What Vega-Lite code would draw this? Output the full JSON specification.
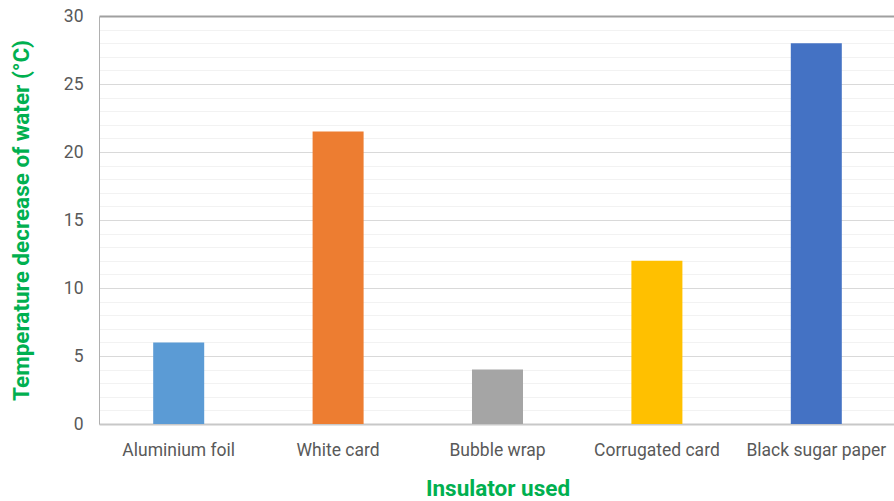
{
  "$schema": "https://vega.github.io/schema/vega-lite/v6.json",
  "width": 797,
  "height": 408,
  "autosize": "none",
  "padding": {"left": 99, "top": 16, "right": 0, "bottom": 77},
  "background": "white",
  "config": {
    "font": "Roboto",
    "view": {"stroke": null}
  },
  "data": {
    "values": [
      {"insulator": "Aluminium foil", "decrease": 6},
      {"insulator": "White card", "decrease": 21.5},
      {"insulator": "Bubble wrap", "decrease": 4},
      {"insulator": "Corrugated card", "decrease": 12},
      {"insulator": "Black sugar paper", "decrease": 28}
    ]
  },
  "mark": {"type": "bar"},
  "encoding": {
    "x": {
      "field": "insulator",
      "type": "nominal",
      "sort": null,
      "scale": {"paddingInner": 0.68, "paddingOuter": 0.34},
      "axis": {
        "title": "Insulator used",
        "titleFont": "Roboto",
        "titleFontSize": 22.5,
        "titleFontWeight": "bold",
        "titleColor": "#00b050",
        "titlePadding": 19,
        "labelAngle": 0,
        "labelFont": "Roboto",
        "labelFontSize": 17.5,
        "labelColor": "#595959",
        "labelPadding": 17,
        "ticks": false,
        "domainColor": "#c8c8c8",
        "domainWidth": 2
      }
    },
    "y": {
      "field": "decrease",
      "type": "quantitative",
      "scale": {"domain": [0, 30], "nice": false},
      "axis": {
        "title": "Temperature decrease of water (°C)",
        "titleFont": "Roboto",
        "titleFontSize": 22.5,
        "titleFontWeight": "bold",
        "titleColor": "#00b050",
        "titlePadding": 30,
        "values": [0,1,2,3,4,5,6,7,8,9,10,11,12,13,14,15,16,17,18,19,20,21,22,23,24,25,26,27,28,29,30],
        "labelExpr": "datum.value % 5 === 0 ? datum.label : ''",
        "labelOverlap": false,
        "labelFont": "Roboto",
        "labelFontSize": 17.5,
        "labelColor": "#595959",
        "labelPadding": 16,
        "ticks": false,
        "domainColor": "#b0b0b0",
        "grid": true,
        "gridColor": {
          "condition": [
            {"test": "datum.value === 30", "value": "#a0a0a0"},
            {"test": "datum.value % 5 === 0", "value": "#d9d9d9"}
          ],
          "value": "#f2f2f2"
        },
        "gridWidth": {
          "condition": {"test": "datum.value === 30", "value": 2},
          "value": 1
        }
      }
    },
    "color": {
      "field": "insulator",
      "type": "nominal",
      "sort": null,
      "scale": {
        "domain": ["Aluminium foil", "White card", "Bubble wrap", "Corrugated card", "Black sugar paper"],
        "range": ["#5b9bd5", "#ed7d31", "#a5a5a5", "#ffc000", "#4472c4"]
      },
      "legend": null
    }
  }
}
